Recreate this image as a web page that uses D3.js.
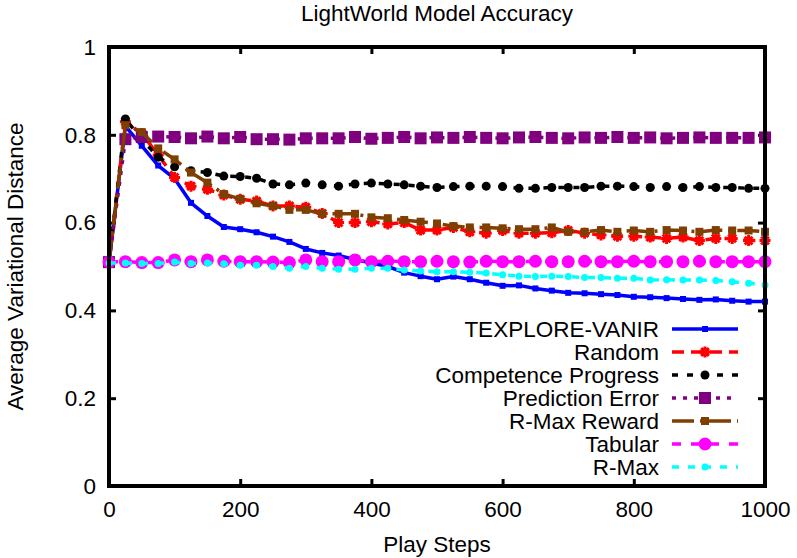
<!DOCTYPE html>
<html>
<head>
<meta charset="utf-8">
<script src="https://cdn.jsdelivr.net/npm/d3@7/dist/d3.min.js"></script>
<style>
  html, body { margin: 0; padding: 0; background: #fff; }
  svg { display: block; }
  text { font-family: "Liberation Sans", Arial, Helvetica, sans-serif; fill: #000; }
</style>
</head>
<body>
<svg id="chart" width="797" height="558"></svg>
<script>
// Play steps at which each model was evaluated
const steps = [0,25,50,75,100,125,150,175,200,225,250,275,300,325,350,375,400,425,450,475,500,
  525,550,575,600,625,650,675,700,725,750,775,800,825,850,875,900,925,950,975,1000];

// Average variational distance per method
const texploreVanir = [0.51,0.82,0.775,0.73,0.70,0.645,0.615,0.59,0.585,0.578,0.568,0.556,0.54,0.531,0.525,0.516,0.508,0.50,0.486,0.478,0.471,
  0.477,0.471,0.463,0.456,0.457,0.45,0.445,0.44,0.439,0.437,0.435,0.431,0.43,0.428,0.426,0.424,0.425,0.422,0.42,0.42];
const random = [0.51,0.83,0.803,0.754,0.703,0.683,0.676,0.663,0.653,0.649,0.638,0.638,0.635,0.621,0.60,0.60,0.602,0.597,0.60,0.583,0.583,
  0.589,0.579,0.576,0.582,0.576,0.576,0.577,0.582,0.576,0.572,0.569,0.569,0.567,0.564,0.567,0.559,0.564,0.564,0.559,0.559];
const competenceProgress = [0.51,0.836,0.79,0.749,0.727,0.718,0.714,0.706,0.705,0.701,0.688,0.686,0.69,0.686,0.683,0.688,0.69,0.688,0.686,0.683,0.68,
  0.682,0.683,0.683,0.682,0.678,0.678,0.68,0.68,0.68,0.683,0.683,0.682,0.68,0.682,0.68,0.682,0.68,0.68,0.678,0.678];
const predictionError = [0.51,0.79,0.795,0.796,0.795,0.792,0.796,0.792,0.795,0.79,0.79,0.789,0.792,0.792,0.792,0.795,0.791,0.793,0.795,0.792,0.794,
  0.793,0.795,0.793,0.792,0.794,0.795,0.793,0.792,0.794,0.793,0.795,0.793,0.794,0.792,0.793,0.794,0.793,0.793,0.793,0.794];
const rmaxReward = [0.51,0.822,0.806,0.769,0.744,0.714,0.691,0.665,0.654,0.644,0.638,0.629,0.629,0.62,0.62,0.62,0.612,0.61,0.606,0.602,0.598,
  0.592,0.589,0.589,0.587,0.585,0.585,0.589,0.579,0.579,0.583,0.579,0.582,0.579,0.583,0.582,0.579,0.583,0.582,0.582,0.579];
const tabular = [0.51,0.511,0.509,0.509,0.515,0.511,0.515,0.512,0.511,0.511,0.51,0.509,0.515,0.511,0.511,0.515,0.511,0.512,0.511,0.511,0.512,
  0.511,0.51,0.512,0.511,0.511,0.512,0.511,0.511,0.512,0.511,0.511,0.512,0.511,0.511,0.511,0.512,0.511,0.511,0.511,0.511];
const rmax = [0.508,0.508,0.507,0.507,0.51,0.507,0.508,0.506,0.503,0.503,0.5,0.496,0.5,0.496,0.494,0.494,0.496,0.496,0.492,0.49,0.488,
  0.488,0.487,0.485,0.481,0.478,0.477,0.478,0.477,0.475,0.475,0.473,0.473,0.469,0.47,0.469,0.469,0.468,0.465,0.462,0.458];

const xTicks = [0, 200, 400, 600, 800, 1000];
const xTickLabels = ["0", "200", "400", "600", "800", "1000"];
const yTicks = [0, 0.2, 0.4, 0.6, 0.8, 1];
const yTickLabels = ["0", "0.2", "0.4", "0.6", "0.8", "1"];

// Series definitions: name, values, colour, dash pattern, marker
const series = [
  { name: "TEXPLORE-VANIR",      values: texploreVanir,      color: "#0000ff", dash: null,        marker: "square", size: 6 },
  { name: "Random",              values: random,             color: "#ff0000", dash: "12,7",      marker: "star",   size: 4 },
  { name: "Competence Progress", values: competenceProgress, color: "#000000", dash: "6,9",       marker: "circle", size: 4.5 },
  { name: "Prediction Error",    values: predictionError,    color: "#800080", dash: "4,7",       marker: "square", size: 12 },
  { name: "R-Max Reward",        values: rmaxReward,         color: "#7f3f00", dash: "22,6,3,6",  marker: "square", size: 8 },
  { name: "Tabular",             values: tabular,            color: "#ff00ff", dash: "9,10",      marker: "circle", size: 6.5 },
  { name: "R-Max",               values: rmax,               color: "#00ffff", dash: "7,9",       marker: "circle", size: 3.5 }
];

const svg = d3.select("#chart");
const plotLeft = 109, plotRight = 765, plotTop = 47, plotBottom = 486;
const fontSize = "22.5px";

const x = d3.scaleLinear().domain([0, 1000]).range([plotLeft, plotRight]);
const y = d3.scaleLinear().domain([0, 1]).range([plotBottom, plotTop]);

// Title and axis labels
svg.append("text").attr("x", 437).attr("y", 21).attr("text-anchor", "middle")
  .style("font-size", fontSize).text("LightWorld Model Accuracy");
svg.append("text").attr("x", 437).attr("y", 552).attr("text-anchor", "middle")
  .style("font-size", fontSize).text("Play Steps");
svg.append("text").attr("transform", "translate(23," + ((plotTop + plotBottom) / 2) + ") rotate(-90)")
  .attr("text-anchor", "middle").style("font-size", fontSize).text("Average Variational Distance");

// Axes with inward ticks, mirrored on the opposite sides
const tickLen = 7;
function styleAxis(g) {
  g.select(".domain").remove();
  g.selectAll(".tick line").attr("stroke", "#000").attr("stroke-width", 3);
  g.selectAll(".tick text").style("font-size", fontSize).attr("fill", "#000")
    .style("font-family", "'Liberation Sans', Arial, sans-serif");
}
svg.append("g").attr("transform", `translate(${plotLeft},0)`)
  .call(d3.axisLeft(y).tickValues(yTicks).tickFormat((d, i) => yTickLabels[i]).tickSize(-tickLen).tickPadding(13))
  .call(styleAxis);
svg.append("g").attr("transform", `translate(${plotRight},0)`)
  .call(d3.axisRight(y).tickValues(yTicks).tickFormat("").tickSize(-tickLen))
  .call(styleAxis);
svg.append("g").attr("transform", `translate(0,${plotBottom})`)
  .call(d3.axisBottom(x).tickValues(xTicks).tickFormat((d, i) => xTickLabels[i]).tickSize(-tickLen).tickPadding(15))
  .call(styleAxis);
svg.append("g").attr("transform", `translate(0,${plotTop})`)
  .call(d3.axisTop(x).tickValues(xTicks).tickFormat("").tickSize(-tickLen))
  .call(styleAxis);

// Marker drawing
function drawMarker(g, s, cx, cy) {
  if (s.marker === "square") {
    g.append("rect").attr("x", cx - s.size / 2).attr("y", cy - s.size / 2)
      .attr("width", s.size).attr("height", s.size).attr("fill", s.color);
  } else if (s.marker === "circle") {
    g.append("circle").attr("cx", cx).attr("cy", cy).attr("r", s.size).attr("fill", s.color);
  } else if (s.marker === "star") {
    const r = s.size;
    const p = d3.path();
    for (let k = 0; k < 4; k++) {
      const a = k * Math.PI / 4;
      p.moveTo(cx - r * Math.cos(a), cy - r * Math.sin(a));
      p.lineTo(cx + r * Math.cos(a), cy + r * Math.sin(a));
    }
    g.append("path").attr("d", p.toString()).attr("stroke", s.color)
      .attr("stroke-width", 3).attr("stroke-linecap", "square");
  }
}

const plot = svg.append("g");
const line = d3.line().x((d, i) => x(steps[i])).y(d => y(d));

series.forEach(s => {
  const g = plot.append("g");
  g.append("path").datum(s.values).attr("d", line)
    .attr("fill", "none").attr("stroke", s.color).attr("stroke-width", 3.5)
    .attr("stroke-linejoin", "round")
    .attr("stroke-dasharray", s.dash);
  s.values.forEach((v, i) => drawMarker(g, s, x(steps[i]), y(v)));
});

// Plot border
svg.append("rect").attr("x", plotLeft).attr("y", plotTop)
  .attr("width", plotRight - plotLeft).attr("height", plotBottom - plotTop)
  .attr("fill", "none").attr("stroke", "#000").attr("stroke-width", 4);

// Legend, right-aligned labels with sample line and marker
const legend = svg.append("g");
series.forEach((s, i) => {
  const cy = 329 + i * 23;
  legend.append("text").attr("x", 659).attr("y", cy).attr("dy", "0.36em")
    .attr("text-anchor", "end").style("font-size", fontSize).text(s.name);
  legend.append("line").attr("x1", 672).attr("x2", 738).attr("y1", cy).attr("y2", cy)
    .attr("stroke", s.color).attr("stroke-width", 3.5).attr("stroke-dasharray", s.dash);
  drawMarker(legend, s, 705, cy);
});
</script>
</body>
</html>
